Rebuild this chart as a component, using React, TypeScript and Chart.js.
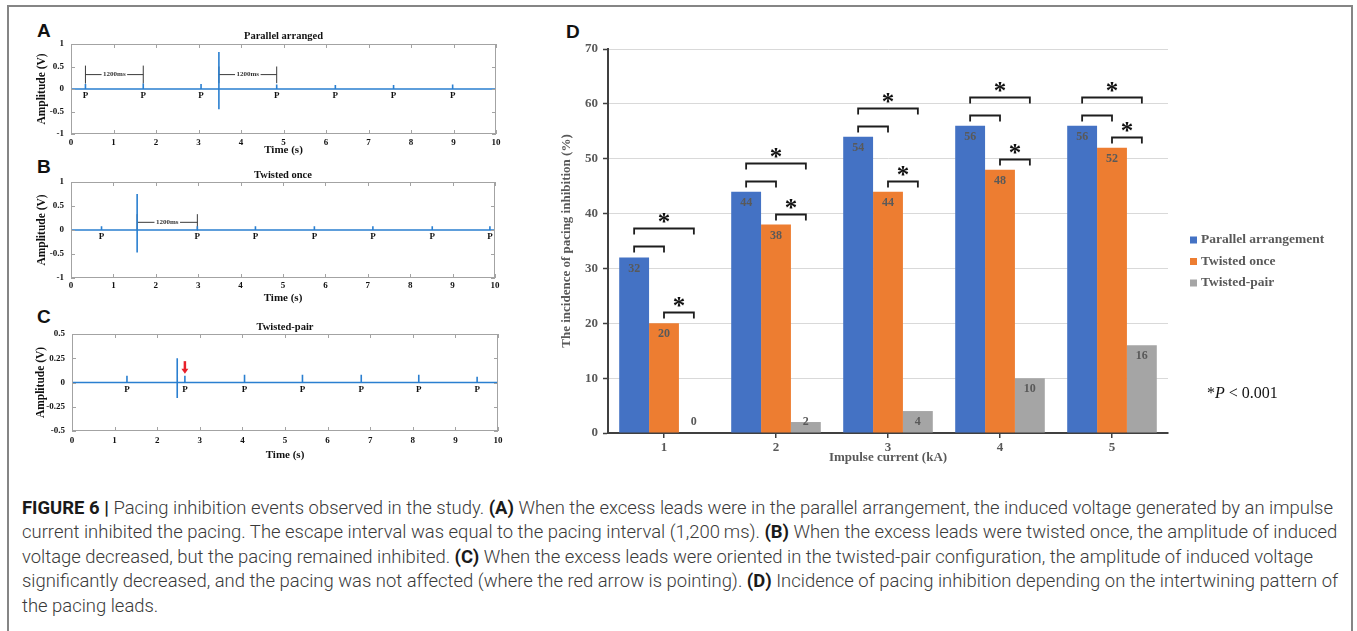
import React, { useEffect, useRef } from 'react';
import { Chart, registerables } from 'chart.js';

Chart.register(...registerables);

const SERIF = '"Liberation Serif", "Times New Roman", serif';

// ---------- Panels A–C : recorded traces ----------
const timeMin = 0;
const timeMax = 10;

const pacingTimesA = [0.34, 1.7, 3.06, 4.84, 6.22, 7.59, 8.98];
const pacingPeaksA = [0.11, 0.12, 0.11, 0.1, 0.09, 0.09, 0.1];
const impulseA = [3.48, 0.82, -0.45]; // time, peak, trough
const intervalMarksA = [
  [0.34, 1.7, 0.12, 0.52, 0.32],
  [3.48, 4.84, 0.13, 0.5, 0.32],
]; // t1, t2, low, high, bar level

const pacingTimesB = [0.72, 2.98, 4.35, 5.74, 7.12, 8.52, 9.88];
const pacingPeaksB = [0.08, 0.08, 0.08, 0.08, 0.08, 0.08, 0.08];
const impulseB = [1.56, 0.75, -0.47];
const intervalMarksB = [[1.56, 2.98, -0.01, 0.33, 0.16]];

const pacingTimesC = [1.29, 2.65, 4.05, 5.41, 6.79, 8.14, 9.51];
const pacingPeaksC = [0.07, 0.07, 0.08, 0.08, 0.08, 0.08, 0.06];
const impulseC = [2.47, 0.25, -0.16];
const arrowC = [2.65, 0.22, 0.09]; // time, tail, tip

const intervalText = '1200ms';
const pacingText = 'P';

// ---------- Panel D : incidence bars ----------
const currents = ['1', '2', '3', '4', '5'];
const parallelArrangement = [32, 44, 54, 56, 56];
const twistedOnce = [20, 38, 44, 48, 52];
const twistedPair = [0, 2, 4, 10, 16];
const seriesNames = ['Parallel arrangement', 'Twisted once', 'Twisted-pair'];
const seriesColors = ['#4472C4', '#ED7D31', '#A5A5A5'];
const incidenceMax = 70;
const incidenceStep = 10;

const captionLines: [string, boolean][][] = [
  [['FIGURE 6 | ', true], ['Pacing inhibition events observed in the study. ', false], ['(A)', true], [' When the excess leads were in the parallel arrangement, the induced voltage generated by an impulse', false]],
  [['current inhibited the pacing. The escape interval was equal to the pacing interval (1,200\u2009ms). ', false], ['(B)', true], [' When the excess leads were twisted once, the amplitude of induced', false]],
  [['voltage decreased, but the pacing remained inhibited. ', false], ['(C)', true], [' When the excess leads were oriented in the twisted-pair configuration, the amplitude of induced voltage', false]],
  [['significantly decreased, and the pacing was not affected (where the red arrow is pointing). ', false], ['(D)', true], [' Incidence of pacing inhibition depending on the intertwining pattern of', false]],
  [['the pacing leads.', false]],
];

// ---------- helpers ----------
function buildTrace(times: number[], peaks: number[], impulse: number[]) {
  const events = times.map((t, i) => ({ t, ys: [0, peaks[i], 0] }));
  events.push({ t: impulse[0], ys: [0, impulse[1], impulse[2], 0] });
  events.sort((a, b) => a.t - b.t);
  const pts: { x: number; y: number | null }[] = [{ x: timeMin, y: 0 }];
  events.forEach((e) => e.ys.forEach((y) => pts.push({ x: e.t, y })));
  pts.push({ x: timeMax, y: 0 });
  return pts;
}

function buildIntervalMarks(marks: number[][]) {
  const pts: { x: number; y: number | null }[] = [];
  marks.forEach(([t1, t2, lo, hi, bar]) => {
    pts.push({ x: t1, y: lo }, { x: t1, y: hi }, { x: t1, y: null });
    pts.push({ x: t2, y: lo }, { x: t2, y: hi }, { x: t2, y: null });
    pts.push({ x: t1, y: bar }, { x: t2, y: bar }, { x: t2, y: null });
  });
  return pts;
}

const plainNumber = (v: any) => String(Number(Number(v).toFixed(2)));

type SignalProps = {
  left: number; top: number; width: number; height: number;
  plot: { l: number; r: number; t: number; b: number };
  title: string; titleCY: number; xTitleCY: number; yTitleCX: number; xTickGap: number;
  times: number[]; peaks: number[]; impulse: number[];
  yMin: number; yMax: number; yStep: number;
  marks?: number[][]; arrow?: number[];
};

function SignalPanel(p: SignalProps) {
  const ref = useRef<HTMLCanvasElement>(null);
  useEffect(() => {
    const titleFont = 10.5, xtFont = 11, ytFont = 11.5, tickFont = 9;
    const decor = {
      id: 'signalDecor',
      afterDatasetsDraw(chart: any) {
        const { ctx, chartArea: ca, scales } = chart;
        const xs = scales.x, ys = scales.y;
        ctx.save();
        // axes box with inward ticks
        ctx.strokeStyle = '#a3a3a3';
        ctx.lineWidth = 1;
        ctx.strokeRect(ca.left + 0.5, ca.top + 0.5, ca.right - ca.left - 1, ca.bottom - ca.top - 1);
        ctx.beginPath();
        xs.ticks.forEach((tk: any) => {
          const px = Math.round(xs.getPixelForValue(tk.value)) + 0.5;
          ctx.moveTo(px, ca.bottom); ctx.lineTo(px, ca.bottom - 4);
          ctx.moveTo(px, ca.top); ctx.lineTo(px, ca.top + 4);
        });
        ys.ticks.forEach((tk: any) => {
          const py = Math.round(ys.getPixelForValue(tk.value)) + 0.5;
          ctx.moveTo(ca.left, py); ctx.lineTo(ca.left + 4, py);
          ctx.moveTo(ca.right, py); ctx.lineTo(ca.right - 4, py);
        });
        ctx.stroke();
        // P labels
        ctx.fillStyle = '#111';
        ctx.font = `bold ${tickFont}px ${SERIF}`;
        ctx.textAlign = 'center';
        ctx.textBaseline = 'middle';
        const y0 = ys.getPixelForValue(0);
        p.times.forEach((t) => ctx.fillText(pacingText, xs.getPixelForValue(t), y0 + 7));
        // interval labels
        (p.marks || []).forEach(([t1, t2, , , bar]) => {
          const cx = (xs.getPixelForValue(t1) + xs.getPixelForValue(t2)) / 2;
          const cy = ys.getPixelForValue(bar);
          ctx.font = `bold 7px ${SERIF}`;
          const w = ctx.measureText(intervalText).width;
          ctx.fillStyle = '#fff';
          ctx.fillRect(cx - w / 2 - 1.5, cy - 4, w + 3, 8);
          ctx.fillStyle = '#333';
          ctx.fillText(intervalText, cx, cy);
        });
        // red arrow
        if (p.arrow) {
          const ax = xs.getPixelForValue(p.arrow[0]);
          const a1 = ys.getPixelForValue(p.arrow[1]);
          const a2 = ys.getPixelForValue(p.arrow[2]);
          ctx.strokeStyle = '#e8202a';
          ctx.fillStyle = '#e8202a';
          ctx.lineWidth = 2.5;
          ctx.beginPath();
          ctx.moveTo(ax, a1); ctx.lineTo(ax, a2 - 4);
          ctx.stroke();
          ctx.beginPath();
          ctx.moveTo(ax - 3.5, a2 - 5); ctx.lineTo(ax + 3.5, a2 - 5); ctx.lineTo(ax, a2); ctx.closePath();
          ctx.fill();
        }
        ctx.restore();
      },
    };
    const datasets: any[] = [
      { data: buildTrace(p.times, p.peaks, p.impulse), borderColor: '#2a7fd0', borderWidth: 1.6, pointRadius: 0, tension: 0 },
    ];
    if (p.marks) {
      datasets.push({ data: buildIntervalMarks(p.marks), borderColor: '#3a3a3a', borderWidth: 1, pointRadius: 0, spanGaps: false });
    }
    const tickFontObj = { family: SERIF, weight: 'bold' as const, size: tickFont };
    const chart = new Chart(ref.current!, {
      type: 'line',
      data: { datasets },
      options: {
        responsive: false,
        animation: false,
        events: [],
        layout: { padding: { left: 0, top: 0, bottom: 0, right: p.width - p.plot.r } },
        plugins: {
          legend: { display: false },
          tooltip: { enabled: false },
          title: {
            display: true,
            text: p.title,
            fullSize: false,
            color: '#111',
            font: { family: SERIF, weight: 'bold', size: titleFont, lineHeight: 1.2 },
            padding: { top: p.titleCY - (titleFont * 1.2) / 2, bottom: p.plot.t - titleFont * 1.2 - (p.titleCY - (titleFont * 1.2) / 2) },
          },
        },
        scales: {
          x: {
            type: 'linear',
            min: timeMin,
            max: timeMax,
            grid: { display: false, drawTicks: false },
            border: { display: false },
            ticks: { stepSize: 1, autoSkip: false, maxRotation: 0, color: '#111', font: tickFontObj, padding: p.xTickGap, callback: plainNumber },
            title: {
              display: true, text: 'Time (s)', color: '#111',
              font: { family: SERIF, weight: 'bold', size: xtFont, lineHeight: 1.2 },
              padding: { top: 0, bottom: p.height - p.xTitleCY - (xtFont * 1.2) / 2 },
            },
            afterFit: (s: any) => { s.height = p.height - p.plot.b; },
          },
          y: {
            type: 'linear',
            min: p.yMin,
            max: p.yMax,
            grid: { display: false, drawTicks: false },
            border: { display: false },
            ticks: { stepSize: p.yStep, autoSkip: false, color: '#111', font: tickFontObj, padding: 7, callback: plainNumber },
            title: {
              display: true, text: 'Amplitude (V)', color: '#111',
              font: { family: SERIF, weight: 'bold', size: ytFont, lineHeight: 1.2 },
              padding: { top: p.yTitleCX - (ytFont * 1.2) / 2, bottom: 0 },
            },
            afterFit: (s: any) => { s.width = p.plot.l; },
          },
        },
      },
      plugins: [decor],
    } as any);
    return () => chart.destroy();
  }, []);
  return (
    <canvas
      ref={ref}
      width={p.width}
      height={p.height}
      style={{ position: 'absolute', left: p.left, top: p.top, width: p.width, height: p.height }}
    />
  );
}

function IncidencePanel() {
  const ref = useRef<HTMLCanvasElement>(null);
  useEffect(() => {
    const W = 800, H = 440;
    const plot = { l: 58, r: 618, t: 19, b: 403 };
    const gray = '#595959';
    const valueLabels = {
      id: 'valueLabels',
      afterDatasetsDraw(chart: any) {
        const ctx = chart.ctx;
        ctx.save();
        ctx.font = `bold 12px ${SERIF}`;
        ctx.fillStyle = gray;
        ctx.textAlign = 'center';
        ctx.textBaseline = 'middle';
        chart.data.datasets.forEach((ds: any, di: number) => {
          chart.getDatasetMeta(di).data.forEach((bar: any, i: number) => {
            const py = Math.min(bar.y + 11, bar.base - 11);
            ctx.fillText(String(ds.data[i]), bar.x, py);
          });
        });
        ctx.restore();
      },
    };
    const brackets = {
      id: 'significance',
      afterDatasetsDraw(chart: any) {
        const ctx = chart.ctx;
        const ys = chart.scales.y;
        const m = [0, 1, 2].map((i) => chart.getDatasetMeta(i));
        ctx.save();
        ctx.strokeStyle = '#1e1e1e';
        ctx.fillStyle = '#111';
        ctx.lineWidth = 1.8;
        ctx.font = `bold 25px ${SERIF}`;
        ctx.textAlign = 'center';
        ctx.textBaseline = 'alphabetic';
        const draw = (x1: number, x2: number, v: number, star: boolean) => {
          const py = Math.round(ys.getPixelForValue(v)) + 0.5;
          ctx.beginPath();
          ctx.moveTo(x1, py + 6); ctx.lineTo(x1, py); ctx.lineTo(x2, py); ctx.lineTo(x2, py + 6);
          ctx.stroke();
          if (star) ctx.fillText('*', (x1 + x2) / 2, py + 1);
        };
        currents.forEach((_, i) => {
          const xb = m[0].data[i].x, xo = m[1].data[i].x, xg = m[2].data[i].x;
          draw(xb, xo, parallelArrangement[i] + 2, false);
          draw(xb, xg, parallelArrangement[i] + 5.3, true);
          draw(xo, xg, twistedOnce[i] + 2, true);
        });
        ctx.restore();
      },
    };
    const sideLegend = {
      id: 'sideLegend',
      afterDraw(chart: any) {
        const ctx = chart.ctx;
        const ca = chart.chartArea;
        ctx.save();
        ctx.font = `bold 13.5px ${SERIF}`;
        ctx.textBaseline = 'middle';
        ctx.textAlign = 'left';
        chart.data.datasets.forEach((ds: any, i: number) => {
          const y = ca.top + 191 + i * 21.5;
          const x = ca.right + 22;
          ctx.fillStyle = ds.backgroundColor;
          ctx.fillRect(x, y - 3.5, 7, 7);
          ctx.fillStyle = gray;
          ctx.fillText(ds.label, x + 11, y);
        });
        ctx.restore();
      },
    };
    const fontBold = { family: SERIF, weight: 'bold' as const, size: 13 };
    const chart = new Chart(ref.current!, {
      type: 'bar',
      data: {
        labels: currents,
        datasets: [parallelArrangement, twistedOnce, twistedPair].map((d, i) => ({
          label: seriesNames[i],
          data: d,
          backgroundColor: seriesColors[i],
          borderWidth: 0,
          categoryPercentage: 0.8,
          barPercentage: 1.0,
        })),
      },
      options: {
        responsive: false,
        animation: false,
        events: [],
        layout: { padding: { left: 0, top: plot.t, bottom: 0, right: W - plot.r } },
        plugins: { legend: { display: false }, tooltip: { enabled: false } },
        scales: {
          x: {
            grid: { display: true, drawOnChartArea: false, offset: false, tickLength: 5, color: '#404040', lineWidth: 1.5 },
            border: { display: true, color: '#404040', width: 2 },
            ticks: { color: gray, font: fontBold, padding: 1.5 },
            title: {
              display: true, text: 'Impulse current (kA)', color: gray,
              font: { ...fontBold, lineHeight: 1.2 },
              padding: { top: 0, bottom: 4.2 },
            },
            afterFit: (s: any) => { s.height = H - plot.b; },
          },
          y: {
            min: 0,
            max: incidenceMax,
            grid: { color: '#d9d9d9', lineWidth: 1, tickColor: '#404040', tickLength: 5, tickWidth: 1.5 },
            border: { display: true, color: '#404040', width: 2 },
            ticks: { stepSize: incidenceStep, color: gray, font: fontBold, padding: 5 },
            title: {
              display: true, text: 'The incidence of pacing inhibition (%)', color: gray,
              font: { ...fontBold, lineHeight: 1.2 },
              padding: { top: 9.2, bottom: 0 },
            },
            afterFit: (s: any) => { s.width = plot.l; },
          },
        },
      },
      plugins: [valueLabels, brackets, sideLegend],
    } as any);
    return () => chart.destroy();
  }, []);
  return (
    <canvas ref={ref} width={800} height={440} style={{ position: 'absolute', left: 550, top: 30, width: 800, height: 440 }} />
  );
}

const letterStyle = (left: number, top: number, size = 19): React.CSSProperties => ({
  position: 'absolute', left, top, fontFamily: '"Liberation Sans", Arial, sans-serif', fontWeight: 700,
  fontSize: size, lineHeight: `${size}px`, color: '#111',
});

export default function App() {
  return (
    <div style={{ position: 'fixed', left: 0, top: 0, width: 1357, height: 631, overflow: 'hidden', background: '#fff' }}>
      <div style={{ position: 'absolute', left: 7, top: 5, width: 1346, height: 700, border: '2px solid #858585', boxSizing: 'border-box' }} />
      <div style={letterStyle(37, 21)}>A</div>
      <div style={letterStyle(37, 157)}>B</div>
      <div style={letterStyle(37, 307)}>C</div>
      <div style={letterStyle(566, 22, 19)}>D</div>
      <SignalPanel
        left={20} top={28} width={500} height={132}
        plot={{ l: 51, r: 476, t: 16, b: 106 }}
        title="Parallel arranged" titleCY={8} xTitleCY={122} yTitleCX={22} xTickGap={3.6}
        times={pacingTimesA} peaks={pacingPeaksA} impulse={impulseA}
        yMin={-1} yMax={1} yStep={0.5} marks={intervalMarksA}
      />
      <SignalPanel
        left={20} top={166} width={500} height={140}
        plot={{ l: 51, r: 475, t: 16, b: 112 }}
        title="Twisted once" titleCY={9} xTitleCY={132} yTitleCX={22} xTickGap={2.6}
        times={pacingTimesB} peaks={pacingPeaksB} impulse={impulseB}
        yMin={-1} yMax={1} yStep={0.5} marks={intervalMarksB}
      />
      <SignalPanel
        left={20} top={318} width={500} height={146}
        plot={{ l: 52, r: 478, t: 16, b: 113 }}
        title="Twisted-pair" titleCY={9} xTitleCY={137} yTitleCX={21} xTickGap={4.6}
        times={pacingTimesC} peaks={pacingPeaksC} impulse={impulseC}
        yMin={-0.5} yMax={0.5} yStep={0.25} arrow={arrowC}
      />
      <IncidencePanel />
      <div style={{ position: 'absolute', left: 1207, top: 383, fontFamily: SERIF, fontSize: 16, lineHeight: '20px', color: '#111', whiteSpace: 'nowrap' }}>
        *<i>P</i> &lt; 0.001
      </div>
      <div style={{ position: 'absolute', left: 22, top: 495.75, fontFamily: 'Roboto, "Liberation Sans", sans-serif', fontWeight: 300, fontSize: 18.45, lineHeight: '24.5px', color: '#3a3a3a', whiteSpace: 'nowrap' }}>
        {captionLines.map((line, li) => (
          <div key={li}>
            {line.map(([text, bold], si) => (
              <span key={si} style={bold ? { fontWeight: 700, color: '#1a1a1a' } : undefined}>{text}</span>
            ))}
          </div>
        ))}
      </div>
    </div>
  );
}
